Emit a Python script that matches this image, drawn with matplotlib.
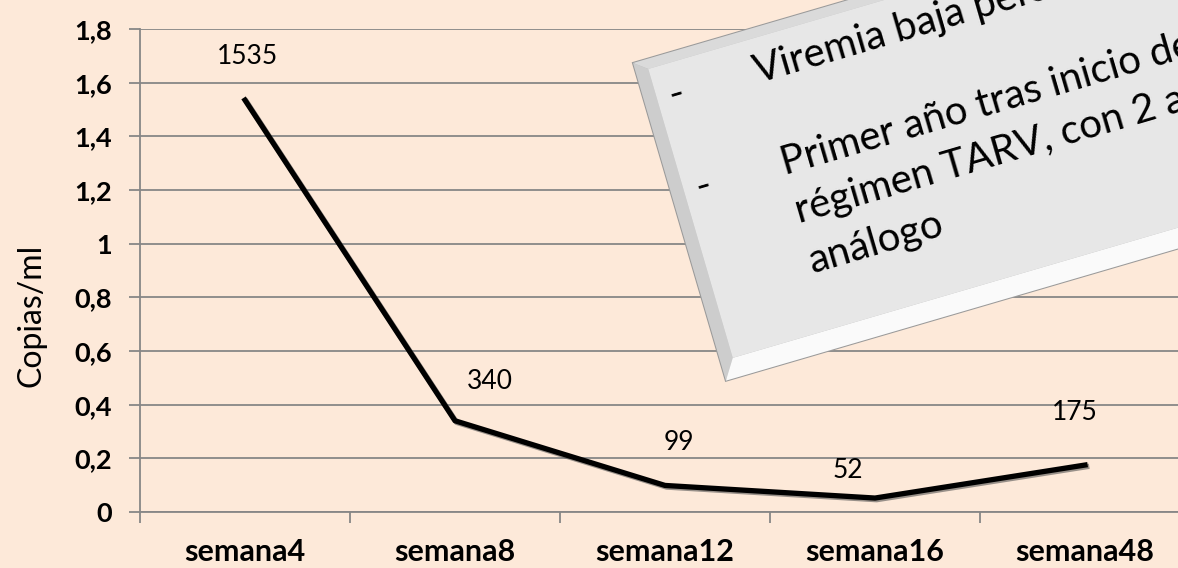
import numpy as np
import matplotlib
matplotlib.use("Agg")
import matplotlib.pyplot as plt
from matplotlib.patches import Polygon
import matplotlib.patheffects as pe
from matplotlib.ticker import FuncFormatter, FixedLocator

# ---- data ----
categories = ["semana4", "semana8", "semana12", "semana16", "semana48"]
values = [1.535, 0.340, 0.099, 0.052, 0.175]
value_labels = ["1535", "340", "99", "52", "175"]
y_ticks = [0, 0.2, 0.4, 0.6, 0.8, 1.0, 1.2, 1.4, 1.6, 1.8]
y_title = "Copias/ml"
box_lines = ["Viremia baja persistente", "Primer año tras inicio del",
             "régimen TARV, con 2 análogos", "análogo"]

# label offsets in pixels (dx, dy up)
label_offsets = [(2, 44), (35, 39), (14, 43), (-27, 28), (-10, 53)]

BG = "#FDE9D9"
GRID = "#878787"
FONT = "Lato"

W, H = 1178, 568
fig = plt.figure(figsize=(W / 100, H / 100), dpi=100, facecolor=BG)
ax = fig.add_axes([140 / W, 56 / H, 1050 / W, 483 / H], facecolor=BG)

x = np.arange(len(categories))
ax.plot(x, values, color="black", lw=3.8, solid_joinstyle="round", zorder=3,
        path_effects=[pe.SimpleLineShadow(offset=(1.2, -1.2), shadow_color="#555555", alpha=0.6),
                      pe.Normal()])

for xi, v, lab, (dx, dy) in zip(x, values, value_labels, label_offsets):
    ax.annotate(lab, (xi, v), xytext=(dx * 0.72, dy * 0.72), textcoords="offset points",
                ha="center", va="center", fontsize=19, family=FONT, color="black", zorder=4)

ax.set_xlim(-0.5, len(categories) - 0.5)
ax.set_ylim(0, 1.8)
ax.set_yticks(y_ticks)
ax.yaxis.set_major_formatter(FuncFormatter(lambda v, p: ("%g" % round(v, 1)).replace(".", ",")))
ax.grid(axis="y", color=GRID, lw=1.3, zorder=1)
ax.set_axisbelow(True)

ax.set_xticks(x)
ax.set_xticklabels(categories, fontsize=22, fontweight="bold", family=FONT)
ax.xaxis.set_minor_locator(FixedLocator(np.arange(-0.5, len(categories), 1.0)))
ax.tick_params(axis="x", which="major", length=0, pad=19)
ax.tick_params(axis="x", which="minor", length=8, width=1.3, color=GRID, direction="out")
ax.tick_params(axis="y", length=8, width=1.3, color=GRID, pad=12, labelsize=19.5)
for t in ax.get_yticklabels():
    t.set_fontweight("bold")
    t.set_family(FONT)

for s in ["top", "right"]:
    ax.spines[s].set_visible(False)
for s in ["left", "bottom"]:
    ax.spines[s].set_color(GRID)
    ax.spines[s].set_linewidth(1.3)

fig.text(31 / W, 1 - 315 / H, y_title, rotation=90, ha="center", va="center",
         fontsize=23, family=FONT)

# ---- rotated text box overlay (pixel coordinates) ----
ov = fig.add_axes([0, 0, 1, 1])
ov.set_xlim(0, W)
ov.set_ylim(H, 0)
ov.axis("off")
ov.patch.set_visible(False)

th = np.deg2rad(16.3)
O = np.array([633.0, 63.0])
u = np.array([np.cos(th), -np.sin(th)])
v = np.array([np.sin(th), np.cos(th)])


def P(a, b):
    return O + a * u + b * v


BW, BH = 800, 331
l, t, r, bt = 13, 10, 13, 20
A, B, C, D = P(0, 0), P(BW, 0), P(BW, BH), P(0, BH)
a_, b_, c_, d_ = P(l, t), P(BW - r, t), P(BW - r, BH - bt), P(l, BH - bt)

ov.add_patch(Polygon([A, B, C, D], closed=True, fc="#BEBEBE", ec="#9A9A9A", lw=1.5, zorder=5))
ov.add_patch(Polygon([A, B, b_, a_], closed=True, fc="#DADADA", ec="none", zorder=6))
ov.add_patch(Polygon([A, a_, d_, D], closed=True, fc="#CDCDCD", ec="none", zorder=6))
ov.add_patch(Polygon([D, d_, c_, C], closed=True, fc="#FAFAFA", ec="none", zorder=6))
ov.add_patch(Polygon([a_, b_, c_, d_], closed=True, fc="#E7E7E7", ec="none", zorder=7))

rot = 16.3
line_b = [54, 150, 200, 252]
for txt, bb in zip(box_lines, line_b):
    px, py = P(114, bb)
    ov.text(px, py, txt, rotation=rot, rotation_mode="anchor", ha="left", va="baseline",
            fontsize=29, family=FONT, color="black", zorder=8, clip_on=True)
for bb in [54, 150]:
    px, py = P(25, bb)
    ov.text(px, py, "-", rotation=rot, rotation_mode="anchor", ha="left", va="baseline",
            fontsize=29, family=FONT, color="black", zorder=8, clip_on=True)

fig.savefig("out.png", dpi=100, facecolor=BG)
